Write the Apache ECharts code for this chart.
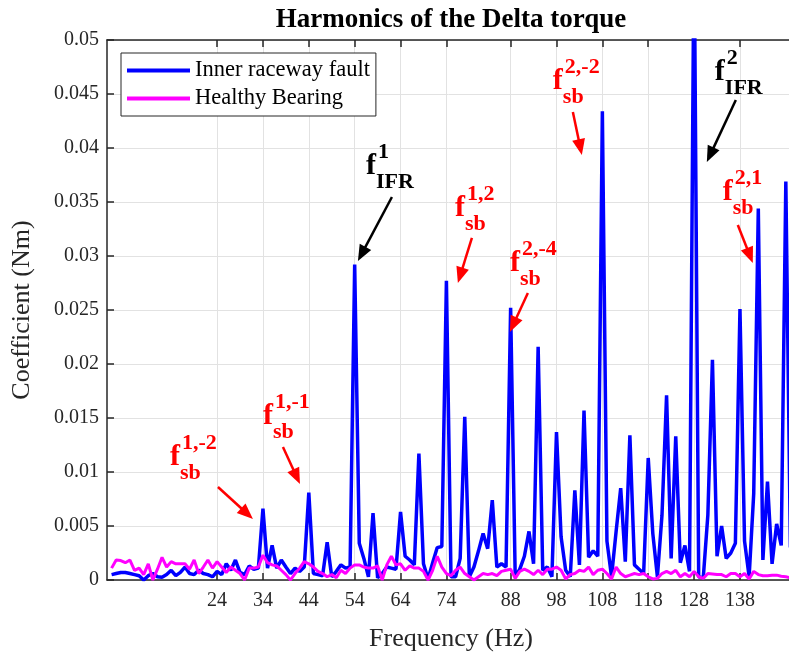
<!DOCTYPE html>
<html><head><meta charset="utf-8">
<script src="https://cdn.jsdelivr.net/npm/echarts@6/dist/echarts.min.js"></script>
<style>html,body{margin:0;padding:0;background:#fff}#c{width:789px;height:656px}</style>
</head><body><div id="c"></div>
<script>
// Frequency bins (Hz)
const freqs = [1,2,3,4,5,6,7,8,9,10,11,12,13,14,15,16,17,18,19,20,21,22,23,24,25,26,27,28,29,30,
31,32,33,34,35,36,37,38,39,40,41,42,43,44,45,46,47,48,49,50,51,52,53,54,55,56,57,58,59,60,
61,62,63,64,65,66,67,68,69,70,71,72,73,74,75,76,77,78,79,80,81,82,83,84,85,86,87,88,89,90,
91,92,93,94,95,96,97,98,99,100,101,102,103,104,105,106,107,108,109,110,111,112,113,114,115,116,117,118,119,120,
121,122,123,124,125,126,127,128,129,130,131,132,133,134,135,136,137,138,139,140,141,142,143,144,145,146,147,148,149];

// Inner raceway fault coefficients (Nm)
const innerFault = [0.0005,0.0006,0.0007,0.0007,0.0006,0.0005,0.0004,0.0000,0.0004,0.0006,
0.0003,0.00025,0.0005,0.0009,0.0004,0.0007,0.0012,0.0006,0.0005,0.0009,
0.0006,0.0005,0.0003,0.0008,0.0005,0.0015,0.0009,0.00185,0.0007,0.0005,
0.0013,0.0010,0.0011,0.0066,0.0011,0.0032,0.0011,0.00185,0.0012,0.0006,
0.0011,0.0008,0.0012,0.0081,0.0006,0.0005,0.0004,0.0035,0.0003,0.0008,
0.0014,0.0011,0.0012,0.0292,0.0034,0.0020,0.0003,0.0062,0.0002,0.0006,
0.0012,0.0011,0.0010,0.0063,0.0022,0.00185,0.0014,0.0117,0.0015,0.0001,
0.0016,0.0030,0.0031,0.0277,0.0003,0.0003,0.0020,0.0151,0.0003,0.0012,
0.0027,0.0043,0.0029,0.0074,0.0012,0.0015,0.0012,0.0252,0.0003,0.0010,
0.0022,0.0045,0.0015,0.0216,0.0009,0.0012,0.0003,0.0137,0.0040,0.0009,
0.0003,0.0083,0.0014,0.0157,0.0021,0.0027,0.0022,0.0434,0.0036,0.0003,
0.0045,0.0085,0.0017,0.0134,0.0014,0.0010,0.0006,0.0113,0.0043,0.0003,
0.0060,0.0171,0.0020,0.0133,0.0016,0.0032,0.0008,0.0600,0.0003,0.0002,
0.0060,0.0204,0.0022,0.0050,0.0020,0.0025,0.0034,0.0251,0.0036,0.0003,
0.0080,0.0344,0.00185,0.0091,0.0015,0.0052,0.0032,0.0369,0.0030];

// Healthy bearing coefficients (Nm)
const healthy = [0.0011,0.00185,0.0018,0.0016,0.00185,0.0009,0.0011,0.0005,0.0015,0.0000,
0.0010,0.0021,0.0012,0.0017,0.0015,0.0015,0.0015,0.0010,0.00185,0.0006,
0.0012,0.00185,0.0011,0.0017,0.0012,0.0007,0.0012,0.0009,0.0006,0.0000,
0.0011,0.0011,0.0012,0.0023,0.0016,0.0014,0.0013,0.0009,0.0005,0.0000,
0.0006,0.0011,0.0017,0.0015,0.0012,0.0008,0.0006,0.0003,0.0005,0.0002,
0.0009,0.0006,0.0011,0.0014,0.0014,0.0012,0.0011,0.0011,0.0013,0.0000,
0.0014,0.0022,0.0014,0.0015,0.0009,0.0013,0.0011,0.0011,0.0008,0.0000,
0.0009,0.0022,0.0012,0.0006,0.0004,0.0009,0.0012,0.0006,0.0003,0.0000,
0.0003,0.0006,0.0005,0.0006,0.0004,0.0008,0.0009,0.0010,0.00015,0.0008,
0.0010,0.0008,0.0005,0.0009,0.0005,0.0010,0.0010,0.0012,0.0009,0.0001,
0.0005,0.0006,0.0009,0.0008,0.0012,0.0005,0.0009,0.0010,0.0006,0.0001,
0.0012,0.0006,0.0003,0.00045,0.0006,0.0005,0.0006,0.0003,0.0001,0.00015,
0.0006,0.0008,0.0006,0.0009,0.0003,0.0006,0.0003,0.0008,0.0003,0.00015,
0.0006,0.00055,0.0005,0.0005,0.0003,0.0006,0.0006,0.0003,0.0006,0.0001,
0.0008,0.0005,0.0004,0.0004,0.00045,0.00045,0.00035,0.0003,0.0002];

const xTicks = [24,34,44,54,64,74,88,98,108,118,128,138];
const seriesNames = ['Inner raceway fault','Healthy Bearing'];
const titleText = 'Harmonics of the Delta torque';
const xName = 'Frequency (Hz)';
const yName = 'Coefficient (Nm)';

// Annotations in data coordinates: label anchor, arrow start, arrow end
const annotations = [
  {sup:'1', sub:'IFR', color:'#000000', at:[56.45,0.03833], from:[62.12,0.03546], to:[54.71,0.02954]},
  {sup:'2', sub:'IFR', color:'#000000', at:[132.52,0.04704], from:[137.10,0.04444], to:[130.78,0.03870]},
  {sup:'1,-2', sub:'sb', color:'#ff0000', at:[13.73,0.01139], from:[24.19,0.00861], to:[31.82,0.00565]},
  {sup:'1,-1', sub:'sb', color:'#ff0000', at:[34.0,0.01519], from:[38.36,0.01231], to:[42.07,0.00889]},
  {sup:'1,2', sub:'sb', color:'#ff0000', at:[75.85,0.03444], from:[79.56,0.03167], to:[76.50,0.02750]},
  {sup:'2,-4', sub:'sb', color:'#ff0000', at:[87.84,0.02935], from:[91.76,0.02657], to:[87.84,0.02296]},
  {sup:'2,-2', sub:'sb', color:'#ff0000', at:[97.21,0.04620], from:[101.57,0.04333], to:[103.53,0.03935]},
  {sup:'2,1', sub:'sb', color:'#ff0000', at:[134.26,0.03593], from:[137.53,0.03287], to:[140.80,0.02935]}
];

const FONT = '"Liberation Serif", "Times New Roman", serif';
const AX = '#262626';
const GRIDC = '#e2e2e2';

const chart = echarts.init(document.getElementById('c'), null, {renderer:'canvas'});

const option = {
  backgroundColor:'#ffffff',
  animation:false,
  grid:{left:107, top:40, width:688, height:540, outerBoundsMode:'none'},
  legend:{
    left:121, top:53, orient:'vertical', icon:'rect', itemWidth:63, itemHeight:4, itemGap:5,
    padding:[6,6,6,6], backgroundColor:'#ffffff', borderColor:AX, borderWidth:1,
    textStyle:{fontFamily:FONT, fontSize:22.5, color:'#000'},
    data:seriesNames
  },
  xAxis:[{
    type:'value', min:0, max:150, position:'bottom',
    axisLine:{show:true, onZero:false, lineStyle:{color:AX, width:1.5}},
    axisTick:{show:true, inside:true, length:7, customValues:xTicks, lineStyle:{color:AX, width:1.5}},
    axisLabel:{customValues:xTicks, fontFamily:FONT, fontSize:20, color:AX, margin:11},
    splitLine:{show:true, lineStyle:{color:GRIDC, width:1}},
    name:xName, nameLocation:'middle', nameGap:46,
    nameTextStyle:{fontFamily:FONT, fontSize:26, color:AX}
  },{
    type:'value', min:0, max:150, position:'top',
    axisLine:{show:true, onZero:false, lineStyle:{color:AX, width:1.5}},
    axisTick:{show:true, inside:true, length:7, customValues:xTicks, lineStyle:{color:AX, width:1.5}},
    axisLabel:{show:false}, splitLine:{show:false}
  }],
  yAxis:{
    type:'value', min:0, max:0.05, interval:0.005,
    axisLine:{show:true, onZero:false, lineStyle:{color:AX, width:1.5}},
    axisTick:{show:true, inside:true, length:7, lineStyle:{color:AX, width:1.5}},
    axisLabel:{fontFamily:FONT, fontSize:20, color:AX, margin:8,
      formatter:v => String(Math.round(v*1000)/1000)},
    splitLine:{show:true, lineStyle:{color:GRIDC, width:1}},
    name:yName, nameLocation:'middle', nameGap:72, nameRotate:90,
    nameTextStyle:{fontFamily:FONT, fontSize:26, color:AX}
  },
  series:[
    {name:seriesNames[0], type:'line', symbol:'none', clip:true, xAxisIndex:0,
     lineStyle:{color:'#0000ff', width:3.5}, itemStyle:{color:'#0000ff'},
     data:freqs.map((f,i)=>[f, innerFault[i]])},
    {name:seriesNames[1], type:'line', symbol:'none', clip:true, xAxisIndex:0,
     lineStyle:{color:'#ff00ff', width:3}, itemStyle:{color:'#ff00ff'},
     data:freqs.map((f,i)=>[f, healthy[i]])}
  ]
};
chart.setOption(option);

function arrow(p1, p2, color) {
  const dx = p2[0]-p1[0], dy = p2[1]-p1[1];
  const len = Math.sqrt(dx*dx+dy*dy);
  const ux = dx/len, uy = dy/len;
  const hl = 16, hw = 6.5;
  const bx = p2[0]-ux*hl, by = p2[1]-uy*hl;
  return [
    {type:'line', silent:true, z:100, shape:{x1:p1[0], y1:p1[1], x2:bx+ux*2, y2:by+uy*2},
     style:{stroke:color, lineWidth:2.5}},
    {type:'polygon', silent:true, z:100, shape:{points:[[p2[0],p2[1]],[bx-uy*hw, by+ux*hw],[bx+uy*hw, by-ux*hw]]},
     style:{fill:color}}
  ];
}

const graphics = [];
const gl = chart.convertToPixel({gridIndex:0}, [0,0]);
const gr = chart.convertToPixel({gridIndex:0}, [150,0.05]);
graphics.push({type:'text', silent:true, z:100, x:(gl[0]+gr[0])/2, y:gr[1]-20,
  style:{text:titleText, font:'bold 27px '+FONT, fill:'#000', align:'center', verticalAlign:'middle'}});

annotations.forEach(a => {
  const p = chart.convertToPixel({gridIndex:0}, a.at);
  const p1 = chart.convertToPixel({gridIndex:0}, a.from);
  const p2 = chart.convertToPixel({gridIndex:0}, a.to);
  graphics.push({type:'text', silent:true, z:100, x:p[0], y:p[1],
    style:{text:'f', font:'bold 30px '+FONT, fill:a.color, align:'left', verticalAlign:'middle'}});
  graphics.push({type:'text', silent:true, z:100, x:p[0]+12, y:p[1]-14,
    style:{text:a.sup, font:'bold 22px '+FONT, fill:a.color, align:'left', verticalAlign:'middle'}});
  graphics.push({type:'text', silent:true, z:100, x:p[0]+10, y:p[1]+16,
    style:{text:a.sub, font:'bold 22px '+FONT, fill:a.color, align:'left', verticalAlign:'middle'}});
  arrow(p1, p2, a.color).forEach(g => graphics.push(g));
});
chart.setOption({graphic:graphics});
</script>
</body></html>
